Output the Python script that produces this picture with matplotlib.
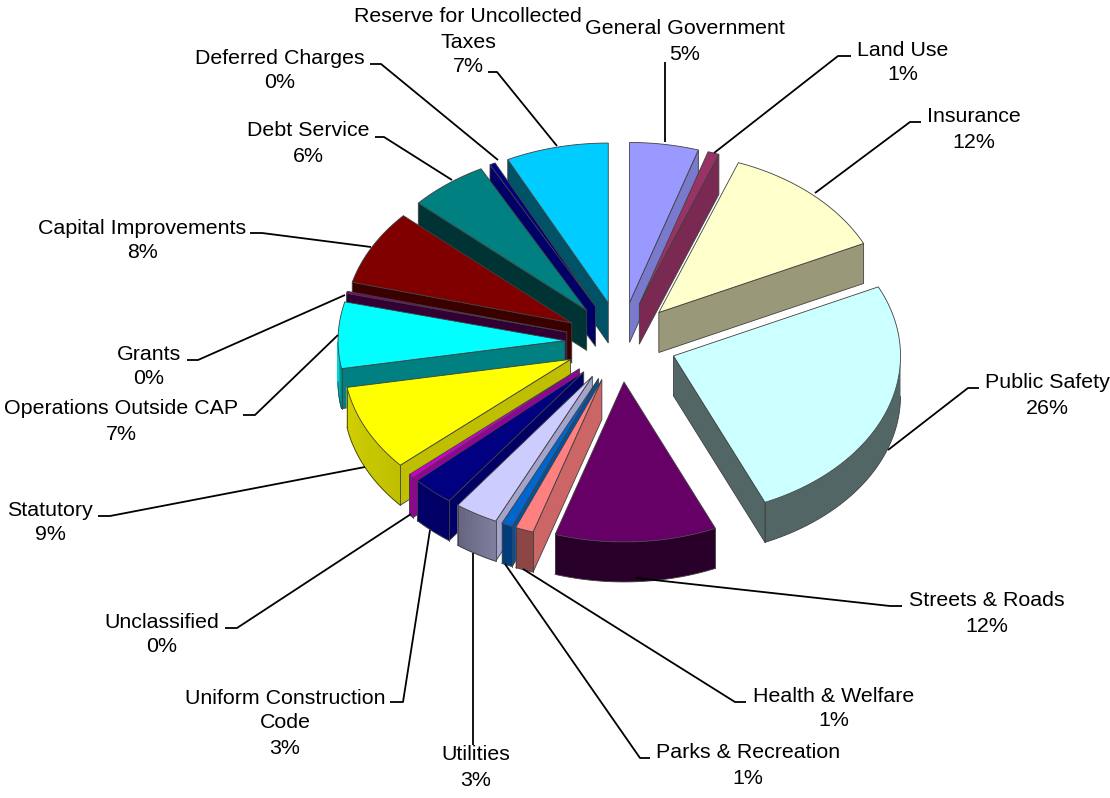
import numpy as np
import matplotlib.pyplot as plt
from matplotlib.patches import Polygon

plt.rcParams['font.family'] = ['Liberation Sans', 'DejaVu Sans']

# Budget share by department, percent
categories = ['General Government', 'Land Use', 'Insurance', 'Public Safety', 'Streets & Roads',
              'Health & Welfare', 'Parks & Recreation', 'Utilities', 'Uniform Construction\nCode',
              'Unclassified', 'Statutory', 'Operations Outside CAP', 'Grants', 'Capital Improvements',
              'Debt Service', 'Deferred Charges', 'Reserve for Uncollected\nTaxes']
shares = [4.9, 0.8, 12.2, 25.5, 11.5, 1.3, 0.8, 3.1, 3.0, 0.4, 8.7, 6.7, 0.2, 7.6, 5.6, 0.4, 7.3]

colors = ['#9999FF', '#993366', '#FFFFCC', '#CCFFFF', '#660066', '#FF8080', '#0066CC', '#CCCCFF',
          '#000080', '#CC00CC', '#FFFF00', '#00FFFF', '#800080', '#800000', '#008080', '#000080', '#00CCFF']
# brightness of the radial side and of the outer rim (start and end of the arc)
side_shade = [0.8, 0.8, 0.6, 0.4, 0.4, 0.8, 0.8, 0.8, 0.8, 0.75, 0.75, 0.5, 0.4, 0.45, 0.4, 0.8, 0.4]
rim_from = [0.6, 0.6, 0.6, 0.4, 0.4, 0.55, 0.6, 0.62, 0.8, 0.75, 0.75, 0.5, 0.4, 0.45, 0.4, 0.8, 0.4]
rim_to = [0.6, 0.6, 0.6, 0.4, 0.4, 0.55, 0.6, 0.5, 0.8, 0.75, 0.82, 0.85, 0.4, 0.45, 0.4, 0.8, 0.4]

# label centre (first line), leader line from the label to its slice
label_xy = [(685, 28), (903, 49), (974, 116), (1047, 382), (987, 600), (834, 695), (748, 752), (476, 754),
            (285, 697), (162, 621), (50, 509), (121, 408), (149, 353), (142, 227), (308, 130), (280, 57),
            (468, 16)]
leaders = [[(665, 62), (665, 142)],
           [(851, 56), (838, 56), (714, 153)],
           [(921, 122), (910, 122), (815, 193)],
           [(979, 388), (968, 388), (888, 450)],
           [(902, 606), (890, 606), (636, 578)],
           [(746, 702), (735, 702), (523, 569)],
           [(650, 758), (640, 758), (505, 564)],
           [(473, 745), (473, 553)],
           [(390, 702), (403, 702), (430, 530)],
           [(225, 628), (237, 628), (411, 514)],
           [(98, 516), (110, 516), (365, 467)],
           [(243, 415), (255, 415), (338, 335)],
           [(187, 360), (198, 360), (345, 295)],
           [(250, 233), (262, 233), (371, 247)],
           [(375, 137), (384, 137), (452, 180)],
           [(370, 64), (381, 64), (498, 160)],
           [(488, 72), (497, 72), (557, 146)]]

CX, CY = 621, 342      # pie centre
RX, RY = 227, 160      # pie radii on screen
PULL_X, PULL_Y = 56, 40  # explosion distance
DEPTH = 40
EDGE = '#404040'


def shade(color, k):
    return tuple(c * k for c in plt.matplotlib.colors.to_rgb(color))


fig = plt.figure(figsize=(11.1, 7.98), dpi=100)
ax = fig.add_axes([0, 0, 1, 1])
ax.set_xlim(0, 1110)
ax.set_ylim(798, 0)
ax.axis('off')

# angles run clockwise from twelve o'clock
edges = np.cumsum([0] + shares) / sum(shares) * 2 * np.pi
slices = []
for i in range(len(shares)):
    a0, a1 = edges[i], edges[i + 1]
    mid = (a0 + a1) / 2
    apex = (CX + PULL_X * np.sin(mid), CY - PULL_Y * np.cos(mid))
    slices.append((apex[1], i, a0, a1, apex))

# back to front, so nearer slices cover the ones behind them
zo = 2
for _, i, a0, a1, apex in sorted(slices, key=lambda s: s[0]):
    t = np.linspace(a0, a1, max(int((a1 - a0) * 60), 2) + 1)
    xs = apex[0] + RX * np.sin(t)
    ys = apex[1] - RY * np.cos(t)
    col = colors[i]

    # radial side that faces the viewer
    for a, q in ((a0, (xs[0], ys[0])), (a1, (xs[-1], ys[-1]))):
        visible = np.sin(a) < 0 if a == a0 else np.sin(a) > 0
        if visible:
            ax.add_patch(Polygon([apex, q, (q[0], q[1] + DEPTH), (apex[0], apex[1] + DEPTH)],
                                 closed=True, fc=shade(col, side_shade[i]), ec=EDGE, lw=0.6, zorder=zo))
            zo += 1

    # outer rim, only where the arc faces the viewer
    front = np.cos(t) < 0
    if front.any():
        fx, fy = xs[front], ys[front]
        n = len(fx)
        if rim_from[i] == rim_to[i]:
            ax.add_patch(Polygon(np.r_[np.c_[fx, fy], np.c_[fx[::-1], fy[::-1] + DEPTH]], closed=True,
                                 fc=shade(col, rim_from[i]), ec='none', zorder=zo))
        else:
            for j in range(n - 1):
                k = rim_from[i] + (rim_to[i] - rim_from[i]) * j / max(n - 2, 1)
                ax.add_patch(Polygon([(fx[j], fy[j]), (fx[j + 1], fy[j + 1]),
                                      (fx[j + 1], fy[j + 1] + DEPTH), (fx[j], fy[j] + DEPTH)],
                                     closed=True, fc=shade(col, k), ec=shade(col, k), lw=0.8, zorder=zo))
        ax.plot(fx, fy + DEPTH, color=EDGE, lw=0.6, zorder=zo)
        # corner lines only where the rim reaches a corner of the slice
        if front[0]:
            ax.plot([fx[0], fx[0]], [fy[0], fy[0] + DEPTH], color=EDGE, lw=0.6, zorder=zo)
        if front[-1]:
            ax.plot([fx[-1], fx[-1]], [fy[-1], fy[-1] + DEPTH], color=EDGE, lw=0.6, zorder=zo)
        zo += 1

    # top face
    ax.add_patch(Polygon(np.r_[[apex], np.c_[xs, ys]], closed=True, fc=col, ec=EDGE, lw=0.6, zorder=zo))
    zo += 1

# labels and leader lines sit on top of the pie
for name, value, (lx, ly), path in zip(categories, shares, label_xy, leaders):
    px, py = zip(*path)
    ax.plot(px, py, color='black', lw=1.3, solid_capstyle='butt', zorder=zo)
    lines = name.split('\n') + [f'{value:.0f}%']
    for n, line in enumerate(lines):
        ax.text(lx, ly + 1 + n * 25, line, ha='center', va='center', fontsize=15.4, color='black', zorder=zo + 1)

fig.savefig('out.png', dpi=100)
